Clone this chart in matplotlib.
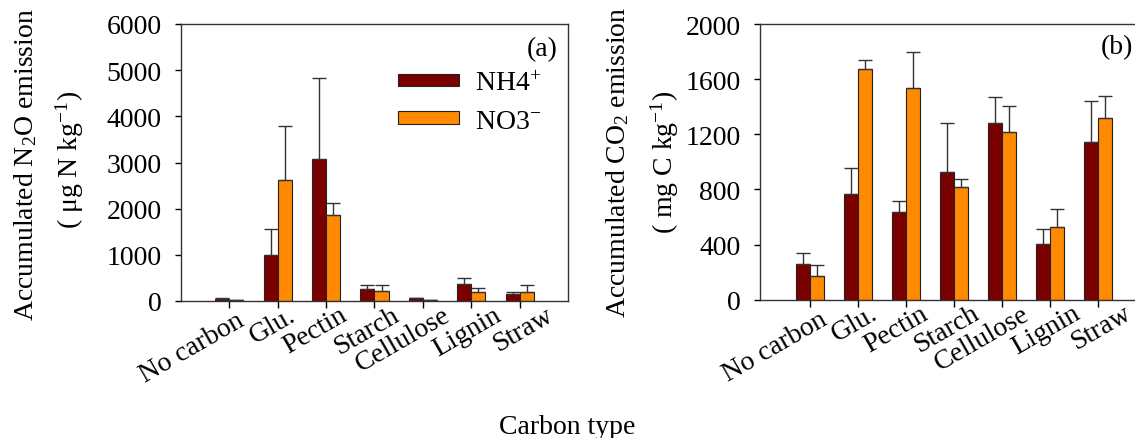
"""
Accumulated N2O and CO2 emissions by carbon type under NH4+ and NO3- supply.
"""

import matplotlib
matplotlib.use('Agg')
import matplotlib.pyplot as plt
import matplotlib.transforms as mtransforms
import numpy as np

plt.rcParams['font.family'] = ['Liberation Serif', 'DejaVu Serif']
plt.rcParams['mathtext.fontset'] = 'custom'
plt.rcParams['mathtext.rm'] = 'Liberation Serif'
plt.rcParams['mathtext.it'] = 'Liberation Serif:italic'

carbon_types = ['No carbon', 'Glu.', 'Pectin', 'Starch', 'Cellulose', 'Lignin', 'Straw']

# N2O (ug N / kg): mean and upper error
n2o_nh4 = [35, 1000, 3080, 262, 55, 375, 145]
n2o_nh4_err = [25, 550, 1745, 88, 10, 123, 57]
n2o_no3 = [22, 2625, 1860, 224, 22, 195, 202]
n2o_no3_err = [8, 1175, 260, 122, 5, 94, 144]

# CO2 (mg C / kg): mean and upper error
co2_nh4 = [259, 764, 638, 926, 1282, 401, 1146]
co2_nh4_err = [77, 191, 80, 356, 188, 114, 295]
co2_no3 = [174, 1671, 1536, 820, 1219, 525, 1318]
co2_no3_err = [77, 70, 263, 55, 186, 135, 162]

NH4_COLOR = '#7a0000'
NO3_COLOR = '#ff8a00'
FS = 20

fig = plt.figure(figsize=(11.35, 4.39), dpi=100)
ax1 = fig.add_axes([181 / 1135, 1 - 302 / 439, 387 / 1135, 277 / 439])
ax2 = fig.add_axes([760 / 1135, 1 - 300.7 / 439, 384 / 1135, 275.7 / 439])


def draw_panel(ax, nh4, nh4_err, no3, no3_err, ymax, ystep, xlim, lab_dx, drift):
    x = np.arange(len(carbon_types))
    w = 0.29
    kw = dict(width=w, edgecolor='#222222', linewidth=0.8, zorder=2)
    b1 = ax.bar(x - w / 2, nh4, color=NH4_COLOR, **kw)
    b2 = ax.bar(x + w / 2, no3, color=NO3_COLOR, **kw)
    ekw = dict(fmt='none', ecolor='#333333', elinewidth=1.0, capsize=5, capthick=1.0, zorder=3)
    ax.errorbar(x - w / 2, nh4, yerr=[np.zeros(len(x)), nh4_err], **ekw)
    ax.errorbar(x + w / 2, no3, yerr=[np.zeros(len(x)), no3_err], **ekw)

    ax.set_xlim(*xlim)
    ax.set_ylim(0, ymax)
    ax.set_yticks(np.arange(0, ymax + 1, ystep))
    ax.set_xticks(x)
    ax.set_xticklabels(carbon_types, rotation=30, ha='right', rotation_mode='anchor')
    ax.tick_params(axis='y', direction='out', length=4, width=1, pad=10, labelsize=FS)
    ax.tick_params(axis='x', direction='out', length=5, width=1, pad=0, labelsize=FS)
    # rotated labels sit a little right of their ticks, drifting further right
    for i, lab in enumerate(ax.get_xticklabels()):
        dx = lab_dx + drift * i
        dy = 0 if i == 0 else 6
        off = mtransforms.ScaledTranslation(dx / 100, dy / 100, fig.dpi_scale_trans)
        lab.set_transform(lab.get_transform() + off)
    for s in ax.spines.values():
        s.set_color('#333333')
        s.set_linewidth(1.0)
    return b1, b2


b1, b2 = draw_panel(ax1, n2o_nh4, n2o_nh4_err, n2o_no3, n2o_no3_err,
                    6000, 1000, (-1.0, 7.0), 7, 3.0)
draw_panel(ax2, co2_nh4, co2_nh4_err, co2_no3, co2_no3_err,
           2000, 400, (-1.04, 6.96), 9, 2.6)

ax1.legend([b1, b2], ['NH4$^{+}$', 'NO3$^{-}$'], loc='upper left',
           bbox_to_anchor=(0.56, 0.83), frameon=False, fontsize=FS,
           handlelength=2.2, handleheight=0.3, labelspacing=0.45,
           handletextpad=0.6, borderpad=0, borderaxespad=0)

ax1.text(0.974, 0.91, '(a)', transform=ax1.transAxes, ha='right', va='center', fontsize=FS)
ax2.text(0.971, 0.917, '(b)', transform=ax2.transAxes, ha='right', va='center', fontsize=FS)

# y-axis titles, two lines each
fig.text(26 / 1135, 1 - 165 / 439, 'Accumulated N$_{2}$O emission', rotation=90,
         ha='center', va='center', fontsize=FS)
fig.text(70 / 1135, 1 - 160 / 439, '( μg N kg$^{-1}$)', rotation=90,
         ha='center', va='center', fontsize=FS)
fig.text(618 / 1135, 1 - 162 / 439, 'Accumulated CO$_{2}$ emission', rotation=90,
         ha='center', va='center', fontsize=FS)
fig.text(665 / 1135, 1 - 162 / 439, '( mg C kg$^{-1}$)', rotation=90,
         ha='center', va='center', fontsize=FS)

fig.text(567 / 1135, 1 - 428 / 439, 'Carbon type', ha='center', va='center', fontsize=FS)

plt.savefig('out.png', dpi=100)
plt.close()
